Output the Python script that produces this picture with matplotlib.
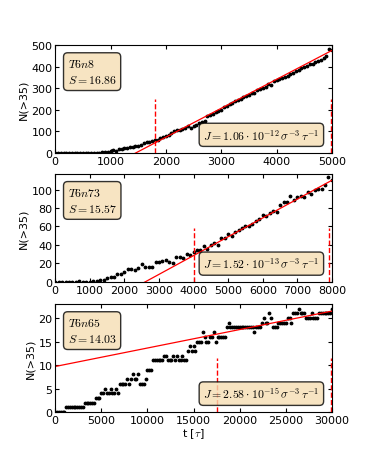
import numpy as np
import matplotlib
matplotlib.use('Agg')
import matplotlib.pyplot as plt

plt.rcParams['mathtext.fontset'] = 'cm'
plt.rcParams['font.size'] = 8

# panel 1: T6n8, sampled every 50 tau
n1 = [0, 0, 0, 0, 0, 0, 0, 0, 0, 0, 0, 0, 0,
      1, 1, 2, 2, 3, 5, 7, 10,
      14, 12, 18, 20, 22, 25, 27, 28, 32, 35,
      38, 45, 50, 52, 55, 62, 60, 72, 75, 80,
      85, 95, 100, 105, 108, 110, 115, 125, 118, 125,
      130, 138, 143, 148, 170, 175, 180, 188, 195, 198,
      212, 218, 225, 232, 240, 245, 252, 258, 265, 270,
      278, 280, 290, 298, 302, 308, 318, 315, 335, 338,
      342, 348, 352, 358, 365, 372, 378, 385, 395, 400,
      405, 410, 412, 420, 425, 432, 440, 448, 482, 478]

# panel 2: T6n73, sampled every 100 tau
n2 = [0, 0, 0, 0, 0, 0, 0, 1, 0, 0, 0,
      1, 1, 2, 2, 4, 5, 5, 9, 9, 11,
      14, 14, 13, 15, 19, 16, 16, 16, 22, 21,
      23, 24, 21, 20, 27, 27, 26, 30, 29, 32,
      34, 35, 39, 36, 40, 42, 40, 48, 47, 52,
      50, 54, 56, 58, 60, 61, 63, 66, 68, 72,
      71, 75, 77, 76, 83, 86, 87, 93, 89, 92,
      93, 92, 97, 95, 99, 101, 101, 105, 113, 110]

# panel 3: T6n65, sampled every 200 tau
n3 = [0, 0, 0, 0, 0, 0,
      1, 1, 1, 1, 1, 1, 1, 1, 1, 1,
      2, 2, 2, 2, 2, 2,
      3, 3, 3,
      4, 4, 5, 4, 4, 5, 4, 4, 5, 4,
      6, 6, 6, 6, 7, 6,
      7, 8, 7, 7, 8, 6, 6, 6, 7,
      9, 9, 9, 11, 11, 11, 11, 11, 11, 12,
      12, 11, 11, 11, 12, 11, 12, 11, 11, 12,
      11, 11, 13, 14, 13, 14, 13, 15, 15, 15,
      17, 16, 15, 15, 16, 16, 17, 15, 16, 16,
      16, 16, 16, 18, 19, 18, 18, 18, 18, 18,
      18, 18, 18, 18, 18, 18, 18, 18, 17, 18,
      18, 18, 19, 20, 19, 19, 21, 20, 18, 18,
      18, 19, 19, 19, 19, 19, 20, 20, 19, 21,
      21, 21, 22, 21, 21, 21, 20, 20, 20, 21,
      20, 20, 20, 21, 21, 21, 21, 21, 21, 21,
      22]

t_max = [5000, 8000, 30000]
series = [n1, n2, n3]
names = ['T6n8', 'T6n73', 'T6n65']
s_vals = ['16.86', '15.57', '14.03']
j_mant = ['1.06', '1.52', '2.58']
j_exp = ['-12', '-13', '-15']
# linear fits: N = slope * t + intercept
slopes = [0.1338, 0.02037, 3.93e-4]
intercepts = [-194.0, -52.96, 9.7]
# fit window bounds
win = [(1800, 4980), (4000, 7920), (17500, 29900)]
y_max = [500, 117, 23]
y_step = [100, 20, 5]
x_step = [1000, 1000, 5000]

fig = plt.figure(figsize=(3.68, 4.6), dpi=100)
bottoms = [0.665, 0.385, 0.102]
box = dict(boxstyle='round,pad=0.35', facecolor='wheat', edgecolor='black', alpha=0.8)

for i in range(3):
    ax = fig.add_axes([0.15, bottoms[i], 0.752, 0.235])
    t = np.linspace(0, t_max[i], len(series[i]))
    ax.plot(t, series[i], 'k.', markersize=3.5)
    tt = np.array([0, t_max[i]])
    ax.plot(tt, slopes[i] * tt + intercepts[i], 'r-', lw=0.9)
    for w in win[i]:
        ax.axvline(w, ymin=0, ymax=0.5, color='r', ls='--', lw=1)
    ax.set_xlim(0, t_max[i])
    ax.set_ylim(0, y_max[i])
    ax.set_xticks(np.arange(0, t_max[i] + 1, x_step[i]))
    ax.set_yticks(np.arange(0, y_max[i] + 1, y_step[i]))
    ax.tick_params(direction='in', top=True, right=True, length=3, labelsize=8, pad=2)
    ax.set_ylabel('N(>35)', fontsize=8, labelpad=2)
    ax.text(0.045, 0.89, '$%s$\n$S=%s$' % (names[i], s_vals[i]),
            transform=ax.transAxes, fontsize=8.5, va='top', ha='left', bbox=box,
            linespacing=1.35)
    ax.text(0.955, 0.1, r'$J=%s\cdot10^{%s}\,\sigma^{-3}\,\tau^{-1}$' % (j_mant[i], j_exp[i]),
            transform=ax.transAxes, fontsize=8.5, va='bottom', ha='right', bbox=box)
    if i == 2:
        ax.set_xlabel(r't [$\tau$]', fontsize=8, labelpad=1)

fig.savefig('out.png', dpi=100)
